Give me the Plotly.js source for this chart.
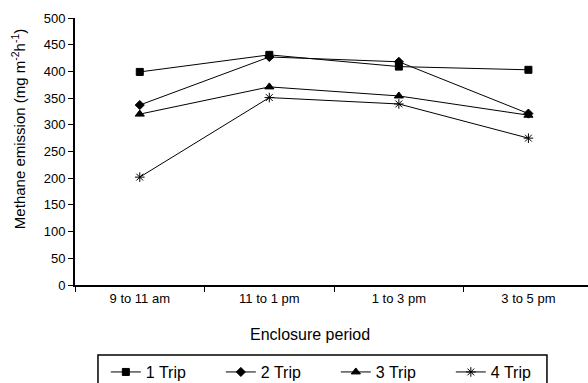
<!DOCTYPE html>
<html>
<head>
<meta charset="utf-8">
<script src="https://cdn.plot.ly/plotly-3.0.1.min.js"></script>
<style>html,body{margin:0;padding:0;background:#fff;}#chart{width:588px;height:383px;}</style>
</head>
<body>
<div id="chart"></div>
<script>
const categories = ["9 to 11 am", "11 to 1 pm", "1 to 3 pm", "3 to 5 pm"];
const trip1 = [399, 431, 409, 403];
const trip2 = [337, 427, 418, 321];
const trip3 = [320, 371, 354, 318];
const trip4 = [202, 351, 339, 275];
const seriesNames = ["1 Trip", "2 Trip", "3 Trip", "4 Trip"];
const yTicks = [0, 50, 100, 150, 200, 250, 300, 350, 400, 450, 500];

const symbols = ["square", "diamond", "triangle-up", "asterisk-open"];
const sizes = [7, 7, 8, 8];
const data = [trip1, trip2, trip3, trip4].map((vals, i) => ({
  x: categories, y: vals, name: seriesNames[i], type: "scatter", mode: "lines+markers",
  line: {color: "#000", width: 1},
  marker: {symbol: symbols[i], size: sizes[i], color: "#000", line: {color: "#000", width: 1}}
}));

const font = "Liberation Sans, Arial, sans-serif";
const layout = {
  width: 588, height: 383,
  margin: {l: 75, r: 0, t: 18, b: 98},
  paper_bgcolor: "#fff", plot_bgcolor: "#fff",
  font: {family: font, color: "#000", size: 13},
  showlegend: true,
  legend: {orientation: "h", xref: "container", yref: "container", x: 0.180, xanchor: "left", y: 0.073, yanchor: "top",
    bgcolor: "rgba(0,0,0,0)", borderwidth: 0, font: {size: 16, family: font}, itemwidth: 30,
    entrywidth: 70, entrywidthmode: "pixels", tracegroupgap: 0},
  xaxis: {type: "category", range: [-0.5, 3.46], showgrid: false, zeroline: false,
    showline: true, linecolor: "#000", linewidth: 2, ticks: "outside", tickson: "boundaries",
    ticklen: 5, tickcolor: "#000", tickfont: {size: 13}},
  yaxis: {range: [0, 500], tickvals: yTicks, showgrid: false, zeroline: false,
    showline: true, linecolor: "#000", linewidth: 2, ticks: "outside", ticklen: 5, tickcolor: "#000", tickfont: {size: 13}},
  shapes: [
    {type: "rect", xref: "paper", yref: "paper", x0: 0.0448, x1: 0.920, y0: -0.262, y1: -0.45,
     line: {color: "#000", width: 1.5}, fillcolor: "rgba(0,0,0,0)", layer: "above"}
  ],
  annotations: [
    {text: "Enclosure period", xref: "paper", yref: "paper", x: 0.458, y: -0.187, xanchor: "center", yanchor: "middle", showarrow: false, font: {size: 16}},
    {text: "Methane emission (mg m<sup>-2</sup>h<sup>-1</sup>)", xref: "paper", yref: "paper", x: -0.111, y: 0.584, xanchor: "center", yanchor: "middle", textangle: -90, showarrow: false, font: {size: 15}}
  ]
};
Plotly.newPlot("chart", data, layout, {displayModeBar: false, staticPlot: true});
</script>
</body>
</html>
